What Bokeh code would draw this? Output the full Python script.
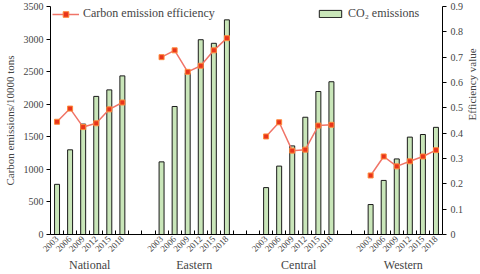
import math
from bokeh.plotting import figure
from bokeh.models import (Range1d, LinearAxis, FixedTicker, CustomJSTickFormatter,
                          Legend, LegendItem)
from bokeh.embed import file_html
from bokeh.resources import INLINE

regions = ["National", "Eastern", "Central", "Western"]
years = ["2003", "2006", "2009", "2012", "2015", "2018"]

co2_national = [770, 1300, 1695, 2120, 2220, 2435]
co2_eastern = [1115, 1965, 2475, 2990, 2935, 3295]
co2_central = [720, 1050, 1360, 1800, 2195, 2345]
co2_western = [460, 830, 1160, 1495, 1535, 1645]

eff_national = [0.445, 0.497, 0.424, 0.439, 0.494, 0.521]
eff_eastern = [0.700, 0.727, 0.642, 0.666, 0.727, 0.775]
eff_central = [0.387, 0.443, 0.331, 0.335, 0.430, 0.433]
eff_western = [0.233, 0.308, 0.269, 0.289, 0.308, 0.333]

co2 = [co2_national, co2_eastern, co2_central, co2_western]
eff = [eff_national, eff_eastern, eff_central, eff_western]

FONT = "'Liberation Serif', 'Times New Roman', serif"
GAP = 2
n_years = len(years)
n_slots = len(regions) * n_years + (len(regions) - 1) * GAP
FW, FH = 392, 228

p = figure(frame_width=FW, frame_height=FH, output_backend="svg", toolbar_location=None,
           x_range=Range1d(0, n_slots), y_range=Range1d(0, 3500),
           min_border_left=0, min_border_right=0, min_border_top=6, min_border_bottom=0)
p.outline_line_color = None
p.xgrid.visible = False
p.ygrid.visible = False
p.extra_y_ranges = {"eff": Range1d(0, 0.9)}

centers = []
labels = {}
group_centers = []
group_labels = {}
line_renderers = []
bar_renderer = None
for g, region in enumerate(regions):
    start = g * (n_years + GAP)
    xs = [start + j + 0.5 for j in range(n_years)]
    centers += xs
    for x, yr in zip(xs, years):
        labels[x] = yr
    gc = start + n_years / 2
    group_centers.append(gc)
    group_labels[gc] = region
    br = p.vbar(x=xs, top=co2[g], width=0.38, fill_color="#c9e6b9",
                line_color="#1a1a1a", line_width=1)
    ln = p.line(xs, eff[g], y_range_name="eff", line_color="#f07468", line_width=1.5)
    sc = p.scatter(xs, eff[g], y_range_name="eff", marker="square", size=5,
                   fill_color="#e8341c", line_color="#ff8a3a", line_width=1)
    if g == 0:
        line_renderers = [ln, sc]
        bar_renderer = br

# x axis (years)
xa = p.xaxis[0]
xa.ticker = FixedTicker(ticks=centers, minor_ticks=list(range(1, n_slots)))
xa.major_label_overrides = labels
xa.major_label_orientation = math.pi / 4
xa.major_tick_in = 0
xa.major_tick_out = 0
xa.minor_tick_in = 4
xa.minor_tick_out = 0
xa.major_label_text_font = FONT
xa.major_label_text_font_size = "9px"
xa.major_label_standoff = 3
xa.axis_line_color = "#000000"

# group labels axis
ga = LinearAxis(ticker=FixedTicker(ticks=group_centers, minor_ticks=[]))
ga.major_label_overrides = group_labels
ga.major_tick_in = 0
ga.major_tick_out = 0
ga.minor_tick_in = 0
ga.minor_tick_out = 0
ga.axis_line_color = None
ga.major_label_text_font = FONT
ga.major_label_text_font_size = "12px"
ga.major_label_standoff = 0
p.add_layout(ga, "below")

# left axis
ya = p.yaxis[0]
ya.ticker = FixedTicker(ticks=[0, 500, 1000, 1500, 2000, 2500, 3000, 3500], minor_ticks=[])
ya.axis_label = "Carbon emissions/10000 tons"
ya.axis_label_text_font = FONT
ya.axis_label_text_font_style = "normal"
ya.axis_label_text_font_size = "11px"
ya.axis_label_standoff = 5
ya.major_label_text_font = FONT
ya.major_label_text_font_size = "10px"
ya.major_tick_in = 0
ya.major_tick_out = 4
ya.major_label_standoff = 3

# right axis
ra = LinearAxis(y_range_name="eff",
                ticker=FixedTicker(ticks=[0, 0.1, 0.2, 0.3, 0.4, 0.5, 0.6, 0.7, 0.8, 0.9], minor_ticks=[]),
                formatter=CustomJSTickFormatter(code="return tick == 0 ? '0' : tick.toFixed(1);"))
ra.axis_label = "Efficiency value"
ra.axis_label_orientation = math.pi / 2
ra.axis_label_text_font = FONT
ra.axis_label_text_font_style = "normal"
ra.axis_label_text_font_size = "11px"
ra.axis_label_standoff = 6
ra.major_label_text_font = FONT
ra.major_label_text_font_size = "10px"
ra.major_tick_in = 0
ra.major_tick_out = 4
ra.major_label_standoff = 4
p.add_layout(ra, "right")

# legends
leg_eff = Legend(items=[LegendItem(label="Carbon emission efficiency", renderers=line_renderers)],
                 location=(2, FH - 15), margin=0, padding=0, spacing=0,
                 glyph_width=27, glyph_height=14, label_height=14, label_standoff=4,
                 label_text_font=FONT, label_text_font_size="12px",
                 border_line_color=None, background_fill_alpha=0)
p.add_layout(leg_eff, "center")

leg_co2 = Legend(items=[LegendItem(label="CO\u2082 emissions", renderers=[bar_renderer])],
                 location=(FW - 126, FH - 15), margin=0, padding=0, spacing=0,
                 glyph_width=28, glyph_height=9, label_height=9, label_standoff=4,
                 label_text_font=FONT, label_text_font_size="12px",
                 border_line_color=None, background_fill_alpha=0)
p.add_layout(leg_co2, "center")

open("out.html", "w").write(file_html(p, INLINE))
